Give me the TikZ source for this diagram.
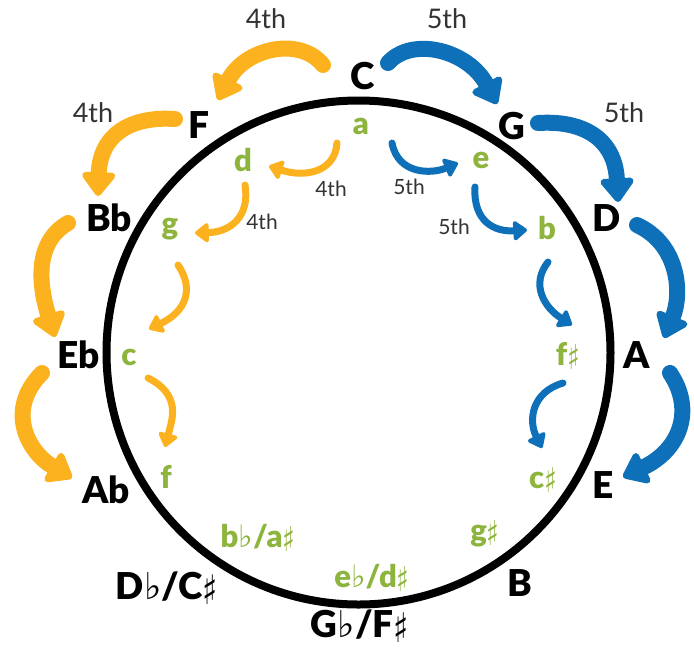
\documentclass[tikz,border=0pt]{standalone}
\usepackage{fontspec}
\usepackage{graphicx}
\setmainfont{Lato}
\newfontfamily\heavy{Lato Black}
\newfontfamily\symfont{DejaVu Sans}
\usetikzlibrary{arrows.meta}
\definecolor{orng}{HTML}{FBB21E}
\definecolor{blu}{HTML}{0E70B8}
\definecolor{grn}{HTML}{8DB43C}
\definecolor{txtgray}{HTML}{333333}
\newcommand{\flt}{{\symfont\mdseries ♭}}
\newcommand{\shp}{\raisebox{-0.14em}{\scalebox{0.85}[1.1]{\symfont\mdseries ♯}}}
\tikzset{
  major/.style={font=\fontsize{37}{37}\selectfont\heavy, text=black, inner sep=0pt},
  minor/.style={font=\fontsize{31}{31}\selectfont\heavy, text=grn, inner sep=0pt},
  biglbl/.style={font=\fontsize{27}{27}\selectfont, text=txtgray, inner sep=0pt},
  smalllbl/.style={font=\fontsize{21}{21}\selectfont, text=txtgray, inner sep=0pt},
  outerarr/.style={line width=16pt, line cap=round, -{Triangle[width=38pt,length=26pt,round]}},
  innerarr/.style={line width=7pt, line cap=round, -{Triangle[width=22pt,length=15pt,round]}},
}
\begin{document}
\begin{tikzpicture}[x=1pt,y=-1pt]
\useasboundingbox (0,0) rectangle (694,649);
\fill[white] (0,0) rectangle (694,649);
% ring
\node[draw, line width=8pt, circle, minimum size=504pt, inner sep=0pt] (ring) at (358.5,352.5) {};
% major keys
\node[major] (C) at (363,76) {C};
\node[major] (F) at (199,125) {F};
\node[major] (G) at (512,126) {G};
\node[major] (Bb) at (109,218) {Bb};
\node[major] (D) at (607,218) {D};
\node[major] (Eb) at (79,355) {Eb};
\node[major] (A) at (637,355) {A};
\node[major] (Ab) at (106,490) {Ab};
\node[major] (E) at (603,485) {E};
\node[major, anchor=base] (Db) at (167,599) {D\flt/C\shp};
\node[major] (B) at (520,583) {B};
\node[major, anchor=base] (Gb) at (360,637) {G\flt/F\shp};
% minor keys
\node[minor] (ma) at (361,126) {a};
\node[minor] (md) at (243,160) {d};
\node[minor] (me) at (481,160) {e};
\node[minor] (mg) at (170,229) {g};
\node[minor] (mb) at (547,228) {b};
\node[minor] (mc) at (129,357) {c};
\node[minor, anchor=base] (mfs) at (568,365) {f\shp};
\node[minor] (mf) at (166,477) {f};
\node[minor, anchor=base] (mcs) at (543,488) {c\shp};
\node[minor, anchor=base] (mbb) at (258,547) {b\flt/a\shp};
\node[minor, anchor=base] (mgs) at (485,541) {g\shp};
\node[minor, anchor=base] (meb) at (372,587) {e\flt/d\shp};
% interval labels
\node[biglbl] (l4a) at (266,19) {4th};
\node[biglbl] (l5a) at (447,19) {5th};
\node[biglbl] (l4b) at (93,113) {4th};
\node[biglbl] (l5b) at (624,113) {5th};
\node[smalllbl] (s4a) at (331,189) {4th};
\node[smalllbl] (s4b) at (262,222) {4th};
\node[smalllbl] (s5a) at (409,187) {5th};
\node[smalllbl] (s5b) at (454,227) {5th};
% arrow end points
\coordinate (o1s) at (323,65);  \coordinate (o1e) at (218,100);
\coordinate (o2s) at (175,119); \coordinate (o2e) at (98,196);
\coordinate (o3s) at (68,223);  \coordinate (o3e) at (55,337);
\coordinate (o4s) at (42,373);  \coordinate (o4e) at (72,478);
\coordinate (b1s) at (388,63);  \coordinate (b1e) at (497,104);
\coordinate (b2s) at (538,123); \coordinate (b2e) at (618,202);
\coordinate (b3s) at (637,225); \coordinate (b3e) at (664,338);
\coordinate (b4s) at (670,373); \coordinate (b4e) at (623,477);
\coordinate (i1s) at (337,143); \coordinate (i1e) at (269,166);
\coordinate (i2s) at (245,185); \coordinate (i2e) at (195,233);
\coordinate (i3s) at (178,265); \coordinate (i3e) at (149,329);
\coordinate (i4s) at (148,378); \coordinate (i4e) at (165,447);
\coordinate (j1s) at (392,143); \coordinate (j1e) at (458,163);
\coordinate (j2s) at (475,187); \coordinate (j2e) at (527,230);
\coordinate (j3s) at (548,262); \coordinate (j3e) at (572,325);
\coordinate (j4s) at (563,383); \coordinate (j4e) at (542,448);
% outer arrows
\draw[outerarr, orng] (o1s) .. controls (300,36) and (245,48) .. (o1e);
\draw[outerarr, orng] (o2s) .. controls (130,116) and (100,135) .. (o2e);
\draw[outerarr, orng] (o3s) .. controls (30,245) and (42,295) .. (o3e);
\draw[outerarr, orng] (o4s) .. controls (5,410) and (28,452) .. (o4e);
\draw[outerarr, blu] (b1s) .. controls (412,36) and (468,50) .. (b1e);
\draw[outerarr, blu] (b2s) .. controls (585,120) and (615,140) .. (b2e);
\draw[outerarr, blu] (b3s) .. controls (680,245) and (682,295) .. (b3e);
\draw[outerarr, blu] (b4s) .. controls (695,410) and (680,450) .. (b4e);
% inner arrows
\draw[innerarr, orng] (i1s) .. controls (335,172) and (305,178) .. (i1e);
\draw[innerarr, orng] (i2s) .. controls (250,215) and (232,232) .. (i2e);
\draw[innerarr, orng] (i3s) .. controls (195,290) and (185,312) .. (i3e);
\draw[innerarr, orng] (i4s) .. controls (182,395) and (172,420) .. (i4e);
\draw[innerarr, blu] (j1s) .. controls (398,175) and (432,174) .. (j1e);
\draw[innerarr, blu] (j2s) .. controls (473,222) and (495,232) .. (j2e);
\draw[innerarr, blu] (j3s) .. controls (530,285) and (545,308) .. (j3e);
\draw[innerarr, blu] (j4s) .. controls (532,392) and (528,420) .. (j4e);
\end{tikzpicture}
\end{document}
